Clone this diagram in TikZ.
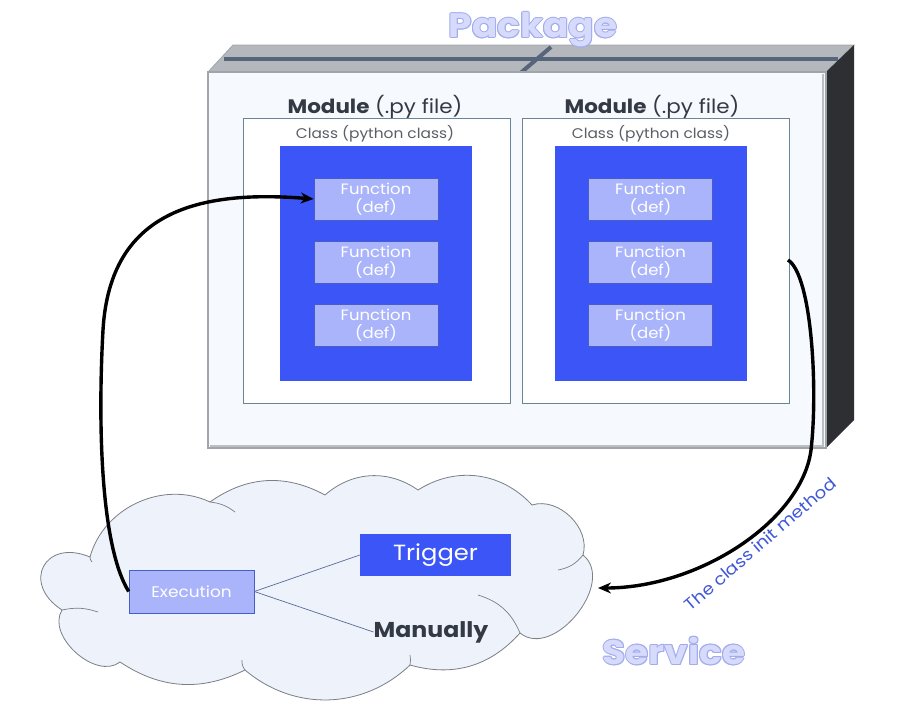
\documentclass[tikz,border=0pt]{standalone}
\usepackage{fontspec}
\setmainfont{Poppins}[FakeStretch=1.1]
\usetikzlibrary{arrows.meta}
\definecolor{mainblue}{HTML}{3B55F6}
\definecolor{funcfill}{HTML}{AAB4FA}
\definecolor{funcedge}{HTML}{4A5CC8}
\definecolor{classedge}{HTML}{6A8598}
\definecolor{frontfill}{HTML}{F6F9FD}
\definecolor{frontedge}{HTML}{A0A5AC}
\definecolor{topfill}{HTML}{B4B7BB}
\definecolor{topline}{HTML}{56657A}
\definecolor{sidefill}{HTML}{2E2F33}
\definecolor{cloudfill}{HTML}{EEF2FA}
\definecolor{cloudedge}{HTML}{7A7E86}
\definecolor{titlefill}{HTML}{D6DAFB}
\definecolor{titleedge}{HTML}{A4ACEE}
\definecolor{darktext}{HTML}{343A44}
\definecolor{graytext}{HTML}{5A5F66}
\definecolor{labelblue}{HTML}{4058D8}
\definecolor{linkline}{HTML}{5A6A9A}
\tikzset{
  funcbox/.style={rectangle, fill=funcfill, draw=funcedge, line width=0.6pt,
    minimum width=124pt, minimum height=42pt, inner sep=0pt, align=center,
    text=white, font=\fontsize{15}{18}\selectfont},
  bluebox/.style={rectangle, fill=mainblue, minimum width=192pt, minimum height=235pt, inner sep=0pt},
  classbox/.style={rectangle, fill=white, draw=classedge, line width=0.6pt,
    minimum width=267pt, minimum height=285pt, inner sep=0pt},
  modlabel/.style={text=darktext, font=\fontsize{19.5}{22}\selectfont, inner sep=0pt},
  classlabel/.style={text=graytext, font=\fontsize{14}{16}\selectfont, inner sep=0pt},
  titletext/.style={font=\fontsize{34}{38}\selectfont\bfseries, inner sep=0pt},
  bigarrow/.style={line width=3.4pt, black, -{Stealth[length=13pt,width=11pt]}},
  linkstyle/.style={draw=linkline, line width=0.7pt},
  crease/.style={draw=cloudedge, line width=0.7pt},
}
\begin{document}
\begin{tikzpicture}[x=1pt,y=-1pt]
\useasboundingbox[fill=white] (0,0) rectangle (923,716);

% ---------- Package (3D box) ----------
\fill[topfill, draw=frontedge, line width=0.8pt] (208,72) -- (233,45) -- (854,45) -- (826,72) -- cycle;
\fill[sidefill] (826,72) -- (854,45) -- (854,420) -- (826,448) -- cycle;
\draw[topline, line width=4pt] (224,59) -- (838,59);
\draw[topline, line width=4pt] (517,76) -- (551,47);
\fill[frontfill, draw=frontedge, line width=1.5pt] (208,72) rectangle (826,448);
\draw[frontedge!70, line width=2.5pt] (823,74) -- (823,446) -- (210,446);

% title "Package"
\coordinate (pkgpos) at (533,30);
\foreach \dx/\dy [count=\i] in {1/0,-1/0,0/1,0/-1,0.7/0.7,-0.7/0.7,0.7/-0.7,-0.7/-0.7}{
  \node[titletext, text=titleedge] (pkgedge\i) at ([shift={(\dx,\dy)}]pkgpos) {Package};
}
\node[titletext, text=titlefill] (pkg) at (pkgpos) {Package};

% ---------- Modules ----------
\node[modlabel] (mod1) at (375,107) {\textbf{Module} (.py file)};
\node[modlabel] (mod2) at (652,107) {\textbf{Module} (.py file)};

\node[classbox] (class1) at (376.5,260.5) {};
\node[classbox] (class2) at (655.5,260.5) {};
\node[classlabel] (cl1) at (375,134) {Class (python class)};
\node[classlabel] (cl2) at (651,134) {Class (python class)};

\node[bluebox] (blue1) at (376,263.5) {};
\node[bluebox] (blue2) at (651,263.5) {};

\node[funcbox] (f11) at (376,199) {Function\\(def)};
\node[funcbox] (f12) at (376,262) {Function\\(def)};
\node[funcbox] (f13) at (376,325) {Function\\(def)};
\node[funcbox] (f21) at (650.5,199) {Function\\(def)};
\node[funcbox] (f22) at (650.5,262) {Function\\(def)};
\node[funcbox] (f23) at (650.5,325) {Function\\(def)};

% ---------- Cloud (Service) ----------
\filldraw[fill=cloudfill, draw=cloudedge, line width=0.8pt]
  (90,557) to[bend left=50] (210,502)
  to[bend left=32] (325,495)
  to[bend left=38] (418,490)
  to[bend left=40] (532,505)
  to[bend left=62] (583,555)
  to[bend left=90, looseness=1.1] (520,633)
  to[bend left=32] (410,665)
  to[bend left=42] (245,670)
  to[bend left=30] (120,662)
  to[bend left=80] (62,610)
  to[bend left=85, looseness=2.1] (90,557) -- cycle;
\draw[crease] (210,502) to[bend left=15] (235,512);
\draw[crease] (583,555) to[bend left=20] (558,570);
\draw[crease] (520,633) to[bend right=25] (478,595);
\draw[crease] (62,610) to[bend left=15] (98,612);
\draw[crease] (90,557) to[bend right=20] (92,562);
\draw[crease] (245,670) to[bend left=20] (242,660);
\draw[crease] (410,665) to[bend right=10] (410,655);

\node[rectangle, fill=funcfill, draw=funcedge, line width=0.6pt, minimum width=125pt, minimum height=43pt,
  inner sep=0pt, text=white, font=\fontsize{15.4}{18}\selectfont] (exec) at (191.5,591.5) {Execution};
\node[rectangle, fill=mainblue, minimum width=151pt, minimum height=42pt, inner sep=0pt,
  text=white, font=\fontsize{22}{24}\selectfont] (trig) at (435.5,555) {Trigger};
\node[text=darktext, font=\fontsize{21.5}{24}\selectfont\bfseries, inner sep=0pt] (man) at (431,632) {Manually};

\draw[linkstyle] (exec.east) -- (trig.west);
\draw[linkstyle] (exec.east) -- (man.west);

% title "Service"
\coordinate (srvpos) at (674,651);
\foreach \dx/\dy [count=\i] in {1/0,-1/0,0/1,0/-1,0.7/0.7,-0.7/0.7,0.7/-0.7,-0.7/-0.7}{
  \node[titletext, text=titleedge] (srvedge\i) at ([shift={(\dx,\dy)}]srvpos) {Service};
}
\node[titletext, text=titlefill] (srv) at (srvpos) {Service};

% ---------- Arrows ----------
\coordinate (c2out) at (788,260);
\coordinate (cloudin) at (598,588);
\draw[bigarrow] (exec.west) .. controls (100,545) and (98,420) .. (103,330)
  .. controls (110,210) and (200,190) .. (f11.west);
\draw[bigarrow] (c2out) .. controls (812,275) and (818,390) .. (811,450)
  .. controls (802,520) and (700,588) .. (cloudin);
\node[text=labelblue, font=\fontsize{16.5}{18}\selectfont, rotate=40.6, inner sep=0pt] (lbl) at (760,544) {The class init method};
\end{tikzpicture}
\end{document}
